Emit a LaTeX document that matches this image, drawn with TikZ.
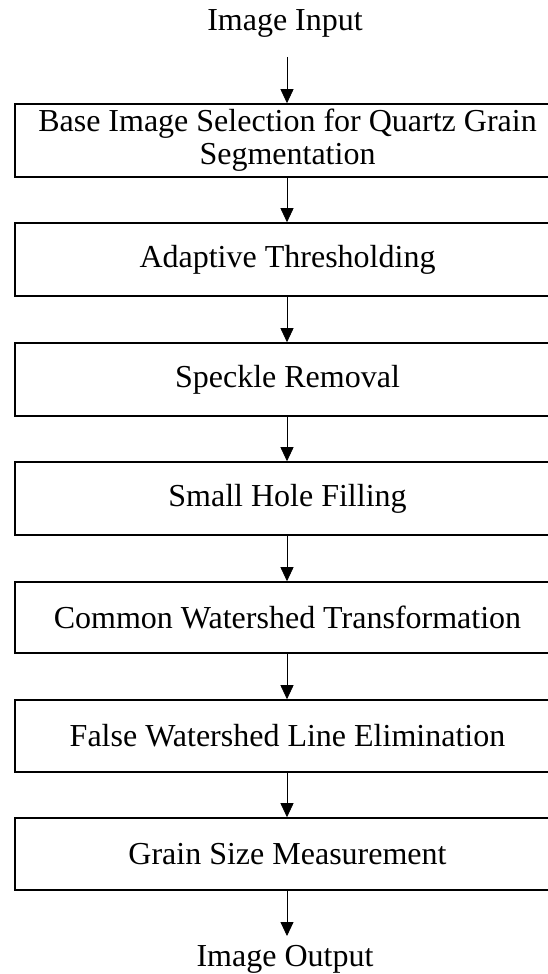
\documentclass[tikz,border=0pt]{standalone}
\usepackage{fontspec}
\setmainfont{Liberation Serif}
\usetikzlibrary{arrows.meta}
\begin{document}
\begin{tikzpicture}[x=1pt,y=-1pt,
  stepbox/.style={draw=black,line width=1.6pt,rectangle,minimum width=545pt,inner sep=0pt,
    font=\fontsize{32}{33}\selectfont,align=center},
  flow/.style={draw=black,line width=0.8pt,-{Triangle[width=13pt,length=14pt]}},
  lbl/.style={font=\fontsize{32}{33}\selectfont,inner sep=0pt,anchor=base}]
\useasboundingbox (0,0) rectangle (547,974);
\node[lbl] (in) at (285,31) {Image Input};
\coordinate (inA) at (287,57);
\node[stepbox,minimum height=73pt] (b1) at (287.5,140.5) {Base Image Selection for Quartz Grain\\Segmentation};
\node[stepbox,minimum height=73pt] (b2) at (287.5,259.5) {Adaptive Thresholding};
\node[stepbox,minimum height=73pt] (b3) at (287.5,379.5) {Speckle Removal};
\node[stepbox,minimum height=73pt] (b4) at (287.5,498.5) {Small Hole Filling};
\node[stepbox,minimum height=71pt] (b5) at (287.5,617.5) {Common Watershed Transformation};
\node[stepbox,minimum height=72pt] (b6) at (287.5,736) {False Watershed Line Elimination};
\node[stepbox,minimum height=72pt] (b7) at (287.5,854) {Grain Size Measurement};
\coordinate (outA) at (287,936);
\node[lbl] (out) at (285,966) {Image Output};
\draw[flow] (inA) -- (inA |- b1.north);
\draw[flow] (b1.south -| inA) -- (inA |- b2.north);
\draw[flow] (b2.south -| inA) -- (inA |- b3.north);
\draw[flow] (b3.south -| inA) -- (inA |- b4.north);
\draw[flow] (b4.south -| inA) -- (inA |- b5.north);
\draw[flow] (b5.south -| inA) -- (inA |- b6.north);
\draw[flow] (b6.south -| inA) -- (inA |- b7.north);
\draw[flow] (b7.south -| inA) -- (outA);
\end{tikzpicture}
\end{document}
